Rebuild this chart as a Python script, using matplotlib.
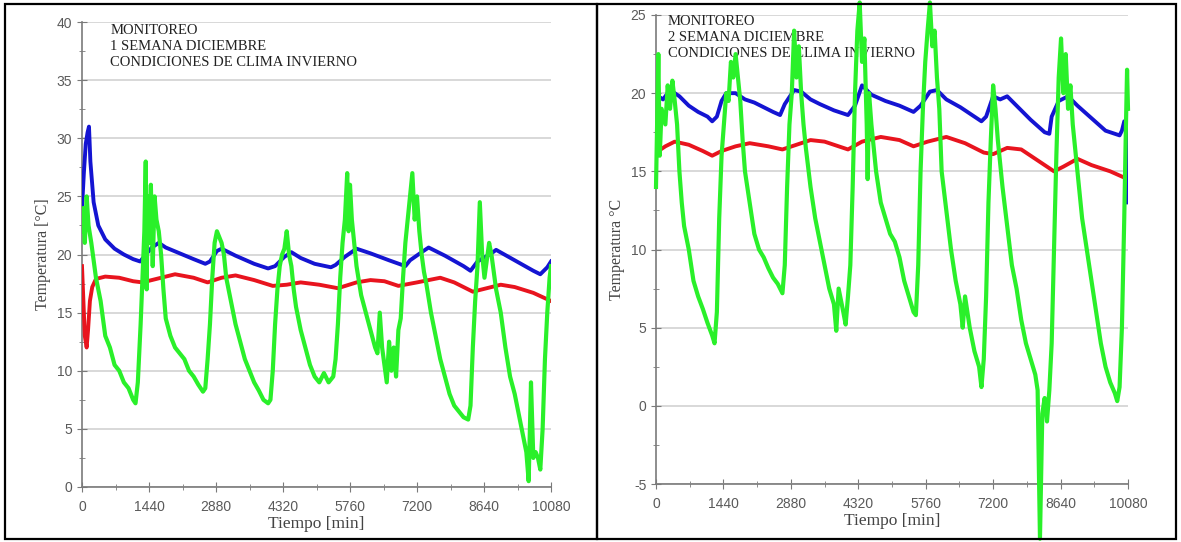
import matplotlib.pyplot as plt
from matplotlib.ticker import MultipleLocator
from matplotlib.patches import Rectangle

plt.rcParams['axes.unicode_minus'] = False

# ---- semana 1 (panel izquierdo) ----
t_azul_1 = [0, 40, 80, 120, 150, 180, 250, 350, 500, 700, 900, 1100, 1250, 1350, 1500, 1650, 1800,
            2100, 2400, 2650, 2750, 2900, 3000, 3300, 3700, 4000, 4150, 4350, 4500, 4700, 5000, 5350,
            5450, 5650, 5900, 6200, 6600, 6950, 7050, 7300, 7450, 7800, 8200, 8350, 8500, 8800, 8900,
            9300, 9700, 9850, 10000, 10080]
azul_1 = [24, 27, 29.5, 30.5, 31, 28, 24.5, 22.5, 21.3, 20.5, 20, 19.6, 19.4, 19.9, 20.6, 21, 20.6,
          20.1, 19.6, 19.2, 19.4, 20.3, 20.5, 19.9, 19.2, 18.8, 19.0, 19.8, 20.2, 19.7, 19.2, 18.9,
          19.1, 19.8, 20.5, 20.1, 19.5, 19.0, 19.5, 20.2, 20.6, 19.9, 19.0, 18.6, 19.4, 20.1, 20.4,
          19.5, 18.6, 18.3, 18.9, 19.4]

t_rojo_1 = [0, 30, 60, 100, 130, 170, 220, 300, 500, 800, 1100, 1300, 1600, 2000, 2400, 2700, 3000,
            3300, 3700, 4100, 4400, 4700, 5100, 5500, 5900, 6200, 6500, 6800, 7200, 7700, 8000, 8400,
            8700, 9000, 9300, 9700, 10080]
rojo_1 = [19, 16, 13, 12, 13.5, 16, 17.2, 17.9, 18.1, 18.0, 17.7, 17.6, 17.9, 18.3, 18.0, 17.6, 18.0,
          18.2, 17.8, 17.3, 17.4, 17.6, 17.4, 17.1, 17.6, 17.8, 17.7, 17.3, 17.6, 18.0, 17.6, 16.8,
          17.1, 17.4, 17.2, 16.7, 16.0]

t_verde_1 = [0, 30, 60, 100, 140, 200, 300, 400, 500, 600, 700, 800, 900, 1000, 1100, 1150, 1200,
             1260, 1300, 1340, 1370, 1390, 1410, 1440, 1480, 1520, 1560, 1600, 1650, 1700, 1750, 1800,
             1900, 2000, 2100, 2200, 2300, 2400, 2500, 2600, 2650, 2700, 2750, 2800, 2850, 2900, 2950,
             3000, 3050, 3100, 3200, 3300, 3400, 3500, 3600, 3700, 3800, 3900, 4000, 4050, 4100, 4150,
             4200, 4250, 4300, 4350, 4400, 4450, 4500, 4550, 4600, 4700, 4800, 4900, 5000, 5100, 5200,
             5300, 5400, 5450, 5500, 5550, 5600, 5650, 5700, 5730, 5760, 5800, 5850, 5900, 6000, 6100,
             6200, 6300, 6350, 6400, 6450, 6500, 6550, 6600, 6650, 6700, 6750, 6800, 6850, 6900, 6950,
             7000, 7050, 7100, 7150, 7200, 7250, 7300, 7350, 7400, 7500, 7600, 7700, 7800, 7900, 8000,
             8100, 8200, 8300, 8350, 8400, 8450, 8500, 8550, 8600, 8650, 8700, 8750, 8800, 8850, 8900,
             9000, 9100, 9200, 9300, 9400, 9500, 9550, 9600, 9650, 9700, 9750, 9800, 9850, 9900, 9950,
             10000, 10050, 10080]
verde_1 = [22, 24, 21, 25, 22.5, 21, 18, 16, 13, 12, 10.5, 10, 9, 8.5, 7.5, 7.2, 9,
           14, 18, 22, 28, 17, 25, 21, 26, 19, 25, 23, 22, 20, 17, 14.5,
           13, 12, 11.5, 11, 10, 9.5, 8.8, 8.2, 8.5, 11, 14, 18, 21, 22, 21.5,
           21, 20, 18, 16, 14, 12.5, 11, 10, 9, 8.3, 7.5, 7.2, 7.5, 10, 14,
           17, 19, 20, 20.5, 22, 20, 19, 17, 15.5, 13.5, 12, 10.5, 9.5, 9, 9.8,
           9, 9.5, 11, 14, 18, 21, 23, 27, 22, 26, 23, 21, 19, 16.5, 15,
           13.5, 12, 11.5, 15, 12, 10.5, 9, 12.5, 10, 12, 9.5, 13.5, 14.5, 18, 21,
           23, 25, 27, 23, 25, 22, 20, 18.5, 17.5, 15, 13, 11, 9.5, 8, 7,
           6.5, 6, 5.8, 7, 12, 16, 19, 24.5, 20, 18, 19.5, 21, 20, 18.5, 17,
           15, 12, 9.5, 8, 6, 4, 3, 0.5, 9, 2.5, 3, 2.5, 1.5, 5, 11,
           15, 18, 19]

# ---- semana 2 (panel derecho) ----
t_azul_2 = [0, 50, 150, 300, 500, 700, 900, 1100, 1200, 1300, 1400, 1500, 1700, 1900, 2100, 2300,
            2500, 2650, 2750, 2950, 3100, 3300, 3500, 3800, 4100, 4250, 4400, 4600, 4900, 5200, 5500,
            5650, 5850, 6000, 6200, 6500, 6800, 6950, 7050, 7200, 7350, 7500, 7700, 8000, 8300, 8400,
            8450, 8600, 8800, 9000, 9300, 9600, 9900, 9950, 10000, 10050, 10060, 10080]
azul_2 = [19.3, 19.8, 19.6, 20.2, 19.8, 19.2, 18.8, 18.5, 18.2, 18.5, 19.5, 20, 20, 19.6, 19.4, 19.1,
          18.8, 18.6, 19.3, 20.2, 20.1, 19.6, 19.3, 18.9, 18.6, 19.2, 20.5, 19.9, 19.5, 19.2, 18.8,
          19.2, 20.1, 20.2, 19.6, 19.1, 18.5, 18.2, 18.5, 19.8, 19.6, 19.8, 19.2, 18.3, 17.5, 17.4,
          18.5, 19.5, 19.8, 19.2, 18.4, 17.6, 17.3, 17.6, 18.2, 18.0, 13.0, 16.8]

t_rojo_2 = [0, 200, 400, 700, 1000, 1200, 1400, 1700, 2000, 2400, 2700, 3000, 3300, 3600, 4000, 4100,
            4400, 4800, 5200, 5500, 5800, 6200, 6600, 7000, 7200, 7500, 7800, 8200, 8500, 8700, 9000,
            9300, 9700, 10000]
rojo_2 = [16.2, 16.6, 16.9, 16.7, 16.3, 16.0, 16.3, 16.6, 16.8, 16.6, 16.4, 16.7, 17.0, 16.9, 16.5, 16.4,
          16.9, 17.2, 17.0, 16.6, 16.9, 17.2, 16.8, 16.2, 16.1, 16.5, 16.4, 15.6, 15.0, 15.3, 15.8,
          15.4, 15.0, 14.6]

t_verde_2 = [0, 30, 50, 80, 120, 200, 250, 300, 350, 400, 450, 500, 550, 600, 700, 800, 900, 1000,
             1100, 1200, 1250, 1300, 1350, 1400, 1450, 1500, 1550, 1600, 1650, 1700, 1750, 1800, 1850,
             1900, 2000, 2100, 2200, 2300, 2400, 2500, 2600, 2700, 2750, 2800, 2850, 2900, 2950, 3000,
             3050, 3100, 3150, 3200, 3300, 3400, 3500, 3600, 3700, 3800, 3850, 3900, 4000, 4050, 4100,
             4150, 4200, 4250, 4300, 4350, 4400, 4450, 4500, 4520, 4550, 4600, 4700, 4800, 4900, 5000,
             5100, 5200, 5300, 5400, 5500, 5550, 5600, 5650, 5700, 5750, 5800, 5850, 5900, 5950, 6000,
             6050, 6100, 6200, 6300, 6400, 6500, 6550, 6600, 6700, 6800, 6900, 6950, 7000, 7050, 7100,
             7150, 7200, 7250, 7300, 7400, 7500, 7600, 7700, 7800, 7900, 8000, 8100, 8150, 8200, 8250,
             8300, 8350, 8400, 8450, 8500, 8550, 8600, 8650, 8700, 8750, 8800, 8850, 8900, 9000, 9100,
             9200, 9300, 9400, 9500, 9600, 9700, 9800, 9850, 9900, 9950, 10000, 10030, 10060, 10080]
verde_2 = [14, 19, 22.5, 16, 19, 18, 20.5, 19, 20.8, 19.5, 18, 15, 13, 11.5, 10, 8, 7, 6.2,
           5.3, 4.5, 4, 6, 12, 16, 18, 20, 19.5, 22, 21, 22.5, 21, 19.5, 17,
           15, 13, 11, 10, 9.5, 8.8, 8.2, 7.8, 7.2, 9, 14, 18, 20, 24, 21,
           23, 20, 18, 16.5, 14, 12, 10.5, 9, 7.5, 6.5, 4.8, 7.5, 6, 5.2, 7,
           9, 14, 20, 24, 25.8, 22, 23.5, 18, 14.5, 20, 18, 15, 13, 12, 11,
           10.5, 9.5, 8, 7, 6, 5.8, 9, 15, 19, 22, 24, 25.8, 23, 24, 21,
           19, 15, 12.5, 10, 8, 6.5, 5, 7, 5, 3.5, 2.5, 1.2, 3, 7, 13,
           17, 20.5, 19, 17, 14, 11.5, 9, 7.5, 5.5, 4, 3, 2, 1, -8.5, -0.5,
           0.5, -1, 1, 4, 10, 16, 21, 23.5, 20, 22.5, 19, 20.5, 18, 15, 12,
           10, 8, 6, 4, 2.5, 1.5, 0.8, 0.3, 1.2, 5, 12, 17, 21.5, 19]

textos = ["MONITOREO\n1 SEMANA DICIEMBRE\nCONDICIONES DE CLIMA INVIERNO",
          "MONITOREO\n2 SEMANA DICIEMBRE\nCONDICIONES DE CLIMA INVIERNO"]
ylabels = ["Temperatura [°C]", "Temperatura °C"]

AZUL = '#1414d2'
ROJO = '#e8141e'
VERDE = '#2af02a'
GRIS = '#5a5a5a'

fig = plt.figure(figsize=(11.81, 5.42), dpi=100)
W, H = 1181, 542

# marcos de la tabla
for x0, x1 in [(5, 597), (597, 1176)]:
    fig.patches.append(Rectangle((x0 / W, 1 - 539 / H), (x1 - x0) / W, (539 - 4) / H,
                                 transform=fig.transFigure, fill=False, ec='black', lw=1.6))

ax1 = fig.add_axes([82 / W, 1 - 487 / H, 469 / W, 465 / H])
ax2 = fig.add_axes([656 / W, 1 - 484 / H, 472 / W, 469 / H])

series = [
    (ax1, t_azul_1, azul_1, t_rojo_1, rojo_1, t_verde_1, verde_1, (0, 40)),
    (ax2, t_azul_2, azul_2, t_rojo_2, rojo_2, t_verde_2, verde_2, (-5, 25)),
]

for i, (ax, ta, a, tr, r, tv, v, ylim) in enumerate(series):
    ax.plot(ta, a, color=AZUL, lw=2.8, zorder=3)
    ax.plot(tr, r, color=ROJO, lw=2.8, zorder=3)
    ax.plot(tv, v, color=VERDE, lw=3.0, zorder=4, clip_on=(i == 0))
    ax.set_xlim(0, 10080)
    ax.set_ylim(*ylim)
    ax.set_xticks(range(0, 10081, 1440))
    ax.xaxis.set_minor_locator(MultipleLocator(720))
    ax.yaxis.set_major_locator(MultipleLocator(5))
    ax.yaxis.set_minor_locator(MultipleLocator(2.5))
    ax.grid(axis='y', color='#d6d6d6', lw=1.3, zorder=0)
    for s in ['top', 'right']:
        ax.spines[s].set_visible(False)
    for s in ['left', 'bottom']:
        ax.spines[s].set_color('#7a7a7a')
        ax.spines[s].set_linewidth(1.2)
    ax.tick_params(which='both', direction='inout', color='#7a7a7a', labelcolor=GRIS,
                   labelsize=10)
    ax.tick_params(which='major', length=7)
    ax.tick_params(which='minor', length=4)
    ax.tick_params(axis='x', pad=6)
    for lab in ax.get_xticklabels() + ax.get_yticklabels():
        lab.set_fontfamily('Liberation Sans')
    ax.set_xlabel("Tiempo [min]", fontfamily='Liberation Serif', fontsize=12.5, color='#444444',
                  labelpad=1)
    ax.set_ylabel(ylabels[i], fontfamily='Liberation Serif', fontsize=11.5, color='#444444',
                  labelpad=4)
    ax.text(0.06 if i == 0 else 0.025, 0.995 if i == 0 else 1.0, textos[i], transform=ax.transAxes,
            va='top', ha='left', fontfamily='Liberation Serif', fontsize=10.5, color='#222222',
            linespacing=1.3, zorder=2)

fig.savefig('out.png', dpi=100)
